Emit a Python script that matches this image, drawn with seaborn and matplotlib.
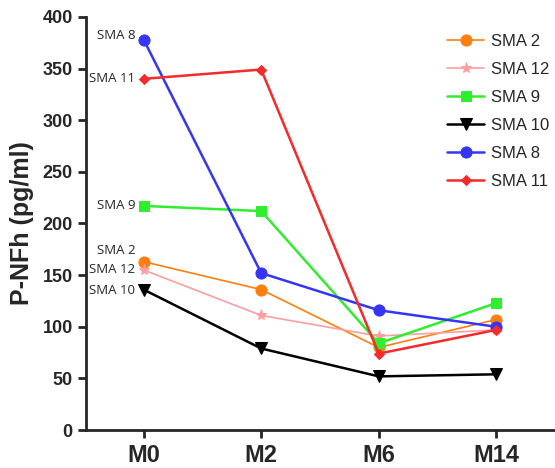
import matplotlib
matplotlib.use("Agg")
import matplotlib.pyplot as plt
import seaborn as sns
import pandas as pd

# time points and P-NFh values per patient
timepoints = ["M0", "M2", "M6", "M14"]
patients = ["SMA 2", "SMA 12", "SMA 9", "SMA 10", "SMA 8", "SMA 11"]
sma2 = [163, 136, 80, 107]
sma12 = [155, 111, 91, 97]
sma9 = [217, 212, 84, 123]
sma10 = [136, 79, 52, 54]
sma8 = [378, 152, 116, 100]
sma11 = [340, 349, 74, 97]
values = [sma2, sma12, sma9, sma10, sma8, sma11]
# where the name tags next to M0 sit (spread so they don't collide)
tag_y = [174, 155, 217, 135, 382, 340]

colors = ["#FF7F0E", "#FF9E9E", "#2EEE2E", "#000000", "#3535F5", "#F52A2A"]
markers = ["o", "*", "s", "v", "o", "D"]
msizes = [8, 8, 7, 8, 8, 5]
lwidths = [1.2, 1.2, 1.8, 1.8, 1.8, 1.8]

sns.set_style("ticks")
plt.rcParams["font.family"] = ["Liberation Sans", "DejaVu Sans"]

fig = plt.figure(figsize=(5.55, 4.68), dpi=100)
ax = fig.add_axes([0.155, 0.081, 0.843, 0.883])

rows = []
for name, vals in zip(patients, values):
    for i, v in enumerate(vals):
        rows.append({"patient": name, "t": i, "value": v})
df = pd.DataFrame(rows)

for name, c, m, ms, lw, ty in zip(patients, colors, markers, msizes, lwidths, tag_y):
    sub = df[df["patient"] == name]
    sns.lineplot(data=sub, x="t", y="value", ax=ax, color=c, marker=m,
                 markersize=ms, markeredgecolor=c, linewidth=lw, label=name)
    ax.annotate(name, (0, ty), xytext=(-6, 0),
                textcoords="offset points", ha="right", va="center",
                fontsize=9.5, family=["Open Sans", "DejaVu Sans"])

ax.set_xlim(-0.49, 3.49)
ax.set_ylim(0, 400)
ax.set_xticks(range(len(timepoints)))
ax.set_xticklabels(timepoints, fontsize=17, fontweight="bold")
ax.set_yticks(range(0, 401, 50))
ax.tick_params(axis="y", labelsize=13, width=2, length=6)
ax.tick_params(axis="x", width=2, length=6, pad=4)
for lab in ax.get_yticklabels():
    lab.set_fontweight("bold")
ax.set_xlabel("")
ax.set_ylabel("P-NFh (pg/ml)", fontsize=18, fontweight="bold", labelpad=6)
sns.despine(ax=ax)
ax.spines["left"].set_linewidth(2)
ax.spines["bottom"].set_linewidth(2)

ax.legend(loc="upper left", bbox_to_anchor=(0.74, 0.995), frameon=False,
          fontsize=12, labelspacing=0.78, handlelength=2.2, handletextpad=0.4)

fig.savefig("out.png", dpi=100)
